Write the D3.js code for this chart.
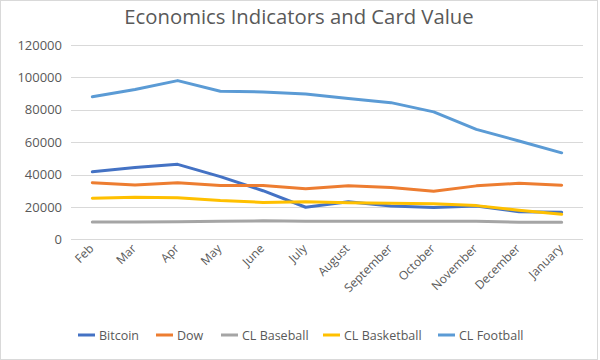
<!DOCTYPE html>
<html><head><meta charset="utf-8">
<script src="https://cdn.jsdelivr.net/npm/d3@7"></script>
<style>body{margin:0;background:#fff}svg{display:block}</style>
</head><body>
<svg id="chart" width="600" height="360"></svg>
<script>
const months = ["Feb","Mar","Apr","May","June","July","August","September","October","November","December","January"];
const bitcoin = [41700,44300,46300,38700,30000,19800,23200,20500,19600,20500,17000,16700];
const dow = [35000,33500,35000,33300,33300,31200,33000,32000,29700,33000,34600,33400];
const clBaseball = [10700,10700,10900,11100,11400,11100,11100,11200,11200,11200,10500,10500];
const clBasketball = [25300,25900,25700,23900,22800,23200,22600,22200,22000,20800,17900,15400];
const clFootball = [88000,92500,98000,91400,91000,89700,86900,84400,78700,67900,60700,53400];
const yTicks = [0,20000,40000,60000,80000,100000,120000];
const seriesNames = ["Bitcoin","Dow","CL Baseball","CL Basketball","CL Football"];
const seriesColors = ["#4472C4","#ED7D31","#A5A5A5","#FFC000","#5B9BD5"];
const seriesData = [bitcoin, dow, clBaseball, clBasketball, clFootball];

(function(){
const svg = d3.select("#chart");
const font = "'Open Sans', 'Noto Sans', sans-serif";
svg.append("rect").attr("x",0.5).attr("y",0.5).attr("width",597).attr("height",359)
  .attr("fill","#fff").attr("stroke","#D9D9D9");

const pLeft = 71, pRight = 583, pTop = 45, pBottom = 239.3;
const x = d3.scaleBand().domain(months).range([pLeft,pRight]);
const y = d3.scaleLinear().domain([0,120000]).range([pBottom,pTop]);

// grid
svg.append("g").selectAll("line").data(yTicks).join("line")
  .attr("x1",pLeft).attr("x2",pRight)
  .attr("y1",d=>Math.round(y(d))+0.5).attr("y2",d=>Math.round(y(d))+0.5)
  .attr("stroke","#D9D9D9").attr("stroke-width",1);

// y axis labels
const yAxis = d3.axisLeft(y).tickValues(yTicks).tickSize(0).tickPadding(0).tickFormat(d=>String(d));
const yg = svg.append("g").attr("transform",`translate(${62},0)`).call(yAxis);
yg.select(".domain").remove();
yg.selectAll("text").attr("font-family",font).attr("font-size",13).attr("fill","#595959");

// x axis labels
const xAxis = d3.axisBottom(x).tickSize(0).tickPadding(0);
const xg = svg.append("g").attr("transform",`translate(0,${pBottom})`).call(xAxis);
xg.select(".domain").remove();
xg.selectAll("text")
  .attr("font-family",font).attr("font-size",12).attr("fill","#595959")
  .attr("text-anchor","end").attr("dy",0).attr("y",0)
  .attr("transform","translate(2,10) rotate(-45)");

// lines
const line = d3.line().x((d,i)=>x(months[i])+x.bandwidth()/2).y(d=>y(d));
seriesData.forEach((s,k)=>{
  svg.append("path").datum(s).attr("d",line).attr("fill","none")
    .attr("stroke",seriesColors[k]).attr("stroke-width",3)
    .attr("stroke-linejoin","round").attr("stroke-linecap","round");
});

// title
svg.append("text").attr("x",299).attr("y",24).attr("text-anchor","middle")
  .attr("font-family",font).attr("font-size",20.3).attr("fill","#595959")
  .text("Economics Indicators and Card Value");

// legend
const legX = [78,156,221,323,438];
const lg = svg.append("g");
seriesNames.forEach((n,k)=>{
  lg.append("line").attr("x1",legX[k]).attr("x2",legX[k]+17).attr("y1",335).attr("y2",335)
    .attr("stroke",seriesColors[k]).attr("stroke-width",3);
  lg.append("text").attr("x",legX[k]+21).attr("y",339.5)
    .attr("font-family",font).attr("font-size",12.5).attr("fill","#595959").text(n);
});
})();
</script>
</body></html>
